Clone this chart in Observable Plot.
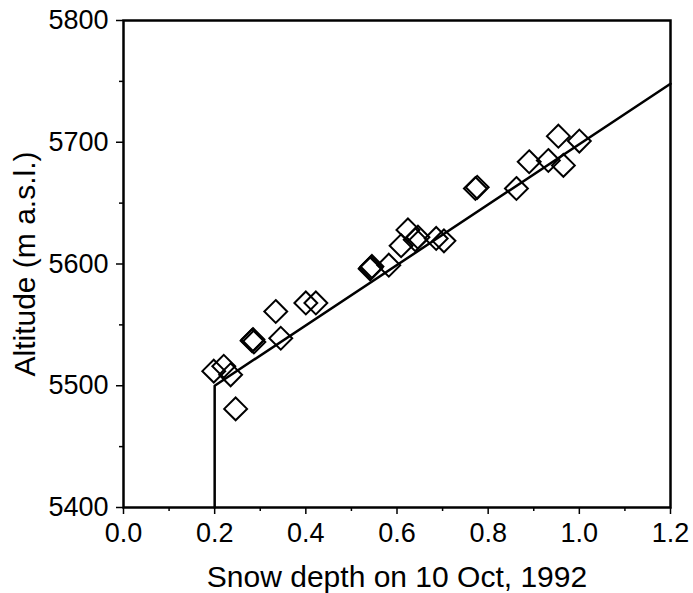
<!DOCTYPE html>
<html><head><meta charset="utf-8">
<script src="https://cdn.jsdelivr.net/npm/d3@7"></script>
<script src="https://cdn.jsdelivr.net/npm/@observablehq/plot@0.6"></script>
<style>body{margin:0;background:#fff}</style>
</head><body><div id="chart"></div>
<script>
// Observed points: snow depth (x) vs altitude (y)
const depth    = [0.198, 0.220, 0.235, 0.246, 0.282, 0.284, 0.286, 0.334, 0.345, 0.400, 0.422, 0.541, 0.543, 0.545, 0.582, 0.609, 0.624, 0.640, 0.646, 0.686, 0.703, 0.772, 0.776, 0.862, 0.890, 0.932, 0.954, 0.965, 1.000];
const altitude = [5512, 5516, 5509, 5481, 5537, 5538, 5536, 5561, 5539, 5568, 5568, 5596, 5597, 5598, 5599, 5615, 5628, 5620, 5622, 5621, 5619, 5662, 5663, 5662, 5684, 5685, 5705, 5681, 5701];
// Fitted model line
const fitDepth    = [0.2, 0.2, 1.2];
const fitAltitude = [5400, 5500, 5748];
// Ticks
const xTicks = [0, 0.2, 0.4, 0.6, 0.8, 1.0, 1.2];
const xMinor = [0.1, 0.3, 0.5, 0.7, 0.9, 1.1];
const yTicks = [5400, 5500, 5600, 5700, 5800];
const yMinor = [5450, 5550, 5650, 5750];

const points = depth.map((d, i) => ({depth: d, altitude: altitude[i]}));
const fit = fitDepth.map((d, i) => ({depth: d, altitude: fitAltitude[i]}));

const chart = Plot.plot({
  width: 693, height: 593,
  marginLeft: 123, marginRight: 23, marginTop: 20, marginBottom: 86,
  style: {fontFamily: "'Liberation Sans', Arial, sans-serif", fontSize: "27px", background: "#fff", color: "#000"},
  x: {domain: [0, 1.2]},
  y: {domain: [5400, 5800]},
  marks: [
    Plot.axisX({ticks: xMinor, tickSize: 4, text: null, label: null, strokeWidth: 1.5}),
    Plot.axisX({ticks: xTicks, tickSize: 7, tickPadding: 8, tickFormat: d => d.toFixed(1), strokeWidth: 1.5, fontSize: 27,
      label: null}),
    Plot.axisY({ticks: yMinor, tickSize: 4, text: null, label: null, strokeWidth: 1.5}),
    Plot.axisY({ticks: yTicks, tickSize: 7, tickPadding: 8, tickFormat: d => String(d), strokeWidth: 1.5, fontSize: 27,
      label: null}),
    Plot.axisX({ticks: [], tickSize: 0, label: "Snow depth on 10 Oct, 1992", labelAnchor: "center", labelArrow: "none", labelOffset: 79, fontSize: 30}),
    Plot.axisY({ticks: [], tickSize: 0, label: "Altitude (m a.s.l.)", labelAnchor: "center", labelArrow: "none", labelOffset: 110, fontSize: 30}),
    Plot.line(fit, {x: "depth", y: "altitude", stroke: "#000", strokeWidth: 2.5}),
    Plot.dot(points, {x: "depth", y: "altitude", symbol: "diamond2", r: 10.3, stroke: "#000", strokeWidth: 2, fill: "none"}),
    Plot.frame({stroke: "#000", strokeWidth: 2.5})
  ]
});
document.getElementById("chart").appendChild(chart);
</script>
</body></html>
